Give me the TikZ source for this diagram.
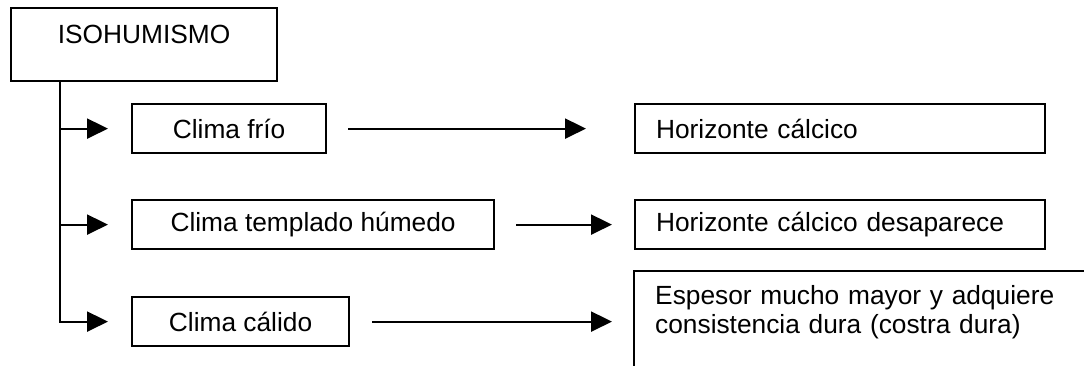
\documentclass[tikz,border=0pt]{standalone}
\usepackage{fontspec}
\setmainfont{Liberation Sans}
\usetikzlibrary{arrows.meta}
\tikzset{
  box/.style={draw, line width=2.2pt, inner sep=0pt, anchor=north west},
  cbox/.style={box, minimum height=49pt, align=center},
  hbox/.style={box, minimum height=49pt, inner xsep=21pt, text width=368pt, align=left},
  arr/.style={line width=2.2pt, -{Triangle[length=21pt,width=20pt]}},
  plain/.style={line width=2.2pt}
}
\begin{document}
\begin{tikzpicture}[x=1pt, y=-1pt, font=\fontsize{26.3}{29}\selectfont]
\useasboundingbox (0,0) rectangle (1084,365);
% root
\node[box, minimum width=266pt, text height=35pt, text depth=38pt] (iso) at (10,7) {ISOHUMISMO};
% left column
\node[cbox, minimum width=194pt] (frio) at (131,103) {Clima frío};
\node[cbox, minimum width=362pt] (templ) at (131,199) {Clima templado húmedo};
\node[cbox, minimum width=217pt] (calido) at (131,296) {Clima cálido};
% right column
\node[hbox] (hc) at (634,103) {Horizonte cálcico};
\node[hbox] (hcd) at (634,199) {Horizonte cálcico desaparece};
\coordinate (espTL) at (634,271);
\draw[plain] ([xshift=480pt]espTL) -- (espTL) -- ([yshift=-110pt]espTL);
\node[anchor=base west, inner sep=0pt, text width=440pt, align=left] (esp) at (655,304)
  {\makebox[417pt][s]{Espesor mucho mayor y adquiere}\\consistencia dura (costra dura)};
% trunk and branches
\coordinate (trunk) at ([xshift=50pt]iso.south west);
\draw[arr, shorten >=23pt] (trunk) |- (calido.west);
\draw[arr, shorten >=23pt] (trunk |- frio.west) -- (frio.west);
\draw[arr, shorten >=23pt] (trunk |- templ.west) -- (templ.west);
% horizontal arrows
\draw[arr, shorten >=48pt] ([xshift=21pt]frio.east) -- (hc.west);
\draw[arr, shorten >=22pt] ([xshift=21pt]templ.east) -- (hcd.west);
\draw[arr, shorten >=22pt] ([xshift=22pt]calido.east) -- (calido.east -| espTL);
\end{tikzpicture}
\end{document}
